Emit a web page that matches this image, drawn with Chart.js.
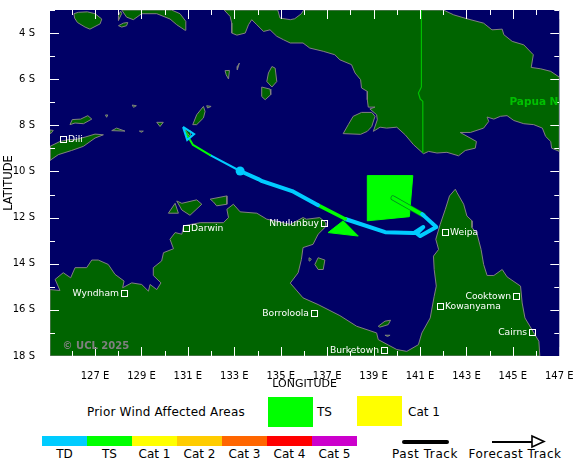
<!DOCTYPE html>
<html><head><meta charset="utf-8">
<script src="https://cdn.jsdelivr.net/npm/chart.js@4"></script>
<style>
html,body{margin:0;padding:0;background:#fff;overflow:hidden}
#wrap{position:relative;width:580px;height:469px;font-family:"DejaVu Sans",sans-serif;color:#000;font-size:12px}
canvas{position:absolute;left:0;top:0}
.t{position:absolute;white-space:nowrap;line-height:14px}
.c{transform:translateX(-50%)}
.b{position:absolute}
</style></head><body>
<div id="wrap"><canvas id="c" width="580" height="392"></canvas><div id="legend"></div></div>
<script>
// Longitude (deg E), latitude (deg S)
const buru=[[126.09,3.16],[126.28,3.10],[126.67,3.08],[127.0,3.16],[127.29,3.39],[127.22,3.60],[126.78,3.83],[126.57,3.74],[126.24,3.54],[126.12,3.35]];
const seram=[[128.15,3.0],[128.36,3.31],[128.65,3.42],[129.01,3.16],[129.66,3.16],[130.23,3.39],[130.52,3.64],[130.88,3.88],[130.91,3.49],[130.66,3.16],[130.30,3.0]];
const ambon=[[128.01,3.68],[128.22,3.57],[128.41,3.54],[128.36,3.68],[128.15,3.74]];
const manipa=[[128.01,3.45],[128.15,3.15],[128.10,3.05],[128.01,3.25]];
const newGuinea=[[132.56,3.0],[132.82,3.28],[132.89,3.57],[132.89,4.0],[133.11,4.09],[133.47,4.0],[133.61,3.64],[133.75,3.42],[133.97,3.64],[134.26,3.93],[134.54,3.86],[134.83,4.14],[135.12,4.29],[135.41,4.43],[135.96,4.43],[136.25,4.65],[136.83,4.79],[137.33,4.94],[137.55,5.16],[138.05,5.37],[138.20,5.73],[138.44,6.02],[138.48,6.38],[138.73,6.53],[138.73,6.89],[138.77,7.21],[139.06,7.21],[138.84,7.29],[139.13,7.54],[139.16,7.76],[138.99,8.26],[139.28,8.08],[139.56,8.12],[140.0,8.08],[140.36,8.41],[140.72,8.84],[141.15,9.23],[141.37,9.13],[141.73,9.20],[142.16,9.17],[142.66,9.32],[142.95,9.09],[143.38,8.99],[143.43,8.70],[142.73,8.31],[143.17,8.31],[143.74,8.12],[143.96,7.83],[143.89,7.64],[144.18,7.73],[144.46,7.61],[144.75,7.58],[145.04,7.79],[145.47,7.93],[145.90,7.97],[146.27,8.12],[146.41,8.48],[146.63,8.70],[146.67,8.99],[147.0,9.13],[147.0,5.91],[146.63,5.66],[146.20,5.55],[145.79,5.49],[145.88,4.94],[145.47,4.51],[144.97,4.36],[144.61,4.07],[144.54,3.83],[144.10,3.86],[143.74,3.57],[143.02,3.38],[142.45,3.21],[142.01,3.0],[135.99,3.0],[135.89,3.16],[135.60,3.38],[135.41,3.42],[134.97,3.35],[134.87,3.0]];
const dolak=[[137.69,8.36],[137.91,7.97],[138.12,7.61],[138.48,7.44],[138.92,7.44],[139.06,7.61],[138.92,8.05],[138.73,8.26],[138.44,8.39]];
const aruNorth=[[134.62,5.45],[134.76,5.52],[134.83,6.10],[134.62,6.34],[134.40,6.10],[134.47,5.73]];
const aruSouth=[[134.18,6.34],[134.54,6.43],[134.57,6.67],[134.33,6.89],[134.18,6.75]];
const keiEast=[[133.13,5.59],[133.22,5.30],[133.13,5.45]];
const keiWest=[[132.60,5.63],[132.79,5.62],[132.75,5.99],[132.65,5.81]];
const tanimbar=[[131.21,7.97],[131.38,7.54],[131.67,7.18],[131.74,7.40],[131.67,7.68],[131.38,7.97]];
const tanimbarNorth=[[131.81,7.15],[132.0,7.18],[131.85,7.25]];
const babar=[[129.66,7.87],[129.94,7.87],[129.80,8.05]];
const damar=[[128.6,7.12],[128.78,7.15],[128.66,7.22]];
const romang=[[127.45,7.55],[127.55,7.55],[127.5,7.65]];
const wetar=[[125.92,7.97],[126.02,7.75],[126.38,7.73],[126.69,7.58],[126.86,7.73],[126.50,7.93],[126.14,7.90]];
const kisar=[[127.72,8.23],[127.93,8.12],[128.29,8.25]];
const leti=[[128.91,8.25],[129.08,8.25],[129.0,8.3]];
const selaru=[[130.85,8.16],[131.14,8.26],[131.09,8.48]];
const alor=[[125.06,8.2],[125.2,8.22],[125.1,8.35]];
const timor=[[125.06,9.52],[125.42,9.27],[125.99,9.09],[126.50,8.91],[127.0,8.55],[127.36,8.41],[127.0,8.38],[126.57,8.51],[126.14,8.62],[125.85,8.62],[125.49,8.70],[125.06,8.91]];
const australia=[[125.06,15.12],[125.49,15.16],[125.28,14.68],[125.63,14.39],[125.95,14.61],[126.14,14.17],[126.64,14.17],[126.86,13.84],[127.14,13.84],[127.57,14.03],[127.86,14.46],[128.25,14.75],[128.19,15.04],[128.58,14.83],[129.01,14.90],[129.30,15.19],[129.37,14.90],[129.66,15.12],[129.84,14.83],[129.51,14.51],[129.51,14.17],[129.87,13.88],[129.95,13.52],[130.38,13.35],[130.23,12.94],[130.45,12.65],[130.74,12.72],[130.81,12.36],[131.53,12.22],[132.53,12.22],[132.75,12.0],[132.68,11.64],[132.96,11.42],[133.25,11.75],[133.97,11.81],[134.40,12.07],[135.41,12.29],[135.96,12.0],[136.11,12.07],[136.68,12.0],[136.94,12.22],[136.94,12.39],[136.61,12.72],[136.39,13.16],[135.96,13.30],[135.89,13.81],[135.75,14.39],[135.41,14.84],[135.96,15.48],[136.61,15.77],[137.55,16.25],[138.27,16.71],[139.13,17.0],[139.20,17.29],[140.0,17.72],[140.43,17.80],[140.93,17.51],[141.08,17.0],[141.44,16.35],[141.61,15.41],[141.70,14.97],[141.61,14.25],[141.58,13.67],[141.80,13.38],[141.68,12.94],[141.87,12.29],[142.09,11.64],[142.27,11.06],[142.52,10.77],[142.59,10.91],[142.88,11.42],[143.02,11.93],[143.24,12.14],[143.24,12.43],[143.46,12.72],[143.63,13.38],[143.74,14.03],[143.89,14.51],[144.18,14.51],[144.54,14.25],[144.75,14.57],[145.33,14.97],[145.40,15.70],[145.52,16.35],[146.12,17.36],[146.16,18.0],[125.06,18.0]];
const bathurst=[[130.16,11.81],[130.45,11.38],[130.59,11.81]];
const melville=[[130.52,11.28],[130.74,11.38],[131.38,11.23],[131.60,11.42],[131.09,11.90],[130.74,11.67]];
const cobourg=[[131.96,11.20],[132.68,11.06],[132.68,11.42],[132.24,11.49],[132.10,11.32]];
const groote=[[136.47,14.03],[136.61,13.74],[136.90,13.84],[136.83,14.25],[136.61,14.25]];
const bickerton=[[136.22,13.74],[136.32,13.81],[136.25,13.88]];
const mornington=[[139.20,16.71],[139.49,16.49],[139.73,16.45],[139.63,16.64],[139.27,16.75]];
const bentinck=[[139.49,17.10],[139.71,17.10],[139.6,17.15]];
const landAreas=[buru,seram,ambon,manipa,newGuinea,dolak,aruNorth,aruSouth,keiEast,keiWest,tanimbar,tanimbarNorth,babar,damar,romang,wetar,kisar,leti,selaru,alor,timor,australia,bathurst,melville,cobourg,groote,bickerton,mornington,bentinck];
const border=[[141.06,3.0],[141.06,6.34],[140.93,6.60],[141.01,6.86],[141.12,6.96],[141.12,9.17]];
const windTSBox=[[138.73,10.18],[140.69,10.18],[140.54,11.96],[138.73,12.14]];
const windTSTriangle=[[137.04,12.65],[137.69,12.14],[138.34,12.80]];
const pastTS1=[[139.84,11.15],[141.14,11.89]];
const pastTD1=[[141.09,11.85],[141.70,12.41],[141.01,12.80],[140.79,12.63],[141.14,12.41],[140.92,12.63],[140.71,12.67],[139.50,12.63],[137.78,12.06]];
const pastTS2=[[137.78,12.06],[136.61,11.46]];
const pastTD2=[[136.61,11.46],[135.49,10.85],[134.20,10.42],[134.03,10.33],[133.25,9.98]];
const forecastTD=[[133.25,9.98],[131.96,9.29]];
const forecastTS=[[131.96,9.29],[131.22,8.85],[130.88,8.28]];
const arrowHead=[[130.79,8.07],[131.27,8.38],[130.97,8.64],[130.79,8.07]];
const currentPos=[[133.25,9.98]];
const cityNames=["Dili","Darwin","Wyndham","Borroloola","Nhulunbuy","Burketown","Weipa","Kowanyama","Cooktown","Cairns"];
const cityLon=[125.63,130.91,128.26,136.45,136.87,139.43,142.06,141.84,145.12,145.82];
const cityLat=[8.61,12.47,15.26,16.15,12.22,17.76,12.64,15.85,15.40,16.97];
const citySide=["r","r","l","l","l","l","r","r","l","l"];
const catLabels=["TD","TS","Cat 1","Cat 2","Cat 3","Cat 4","Cat 5"];
const catColors=["#00ccff","#00ff00","#ffff00","#ffcc00","#ff6600","#ff0000","#cc00cc"];

const pts=a=>a.map(p=>({x:p[0],y:p[1]}));
const base={showLine:true,pointRadius:0,pointHoverRadius:0,tension:0};
const line=(a,color,w,extra)=>Object.assign({},base,{data:pts(a),borderColor:color,borderWidth:w,fill:false,borderCapStyle:'round',borderJoinStyle:'round'},extra||{});
const area=(a,fillC,strokeC,w)=>Object.assign({},base,{data:pts(a.concat([a[0]])),backgroundColor:fillC,borderColor:strokeC,borderWidth:w,fill:'shape'});

const painted=[];
landAreas.forEach(a=>painted.push(area(a,'#006400','#808080',1)));
painted.push(line(border,'#00c000',1.2));
painted.push(area(windTSBox,'#00ff00','#00ff00',1));
painted.push(area(windTSTriangle,'#00ff00','#00ff00',1));
painted.push(line(pastTS1,'#008a20',5));
painted.push(line(pastTS1,'#00ff00',3.6));
painted.push(line(pastTD1,'#00ccff',4));
painted.push(line(pastTS2,'#00ff00',3.5));
painted.push(line(pastTD2,'#00ccff',4));
painted.push(line(forecastTD,'#00ccff',2));
painted.push(line(forecastTS,'#00ff00',2));
painted.push(line(arrowHead,'#00ccff',2,{borderCapStyle:'butt',borderJoinStyle:'miter'}));
painted.push(Object.assign({},base,{data:pts(currentPos),showLine:false,pointRadius:4.5,backgroundColor:'#00ccff',borderWidth:0}));

const overlay={id:'overlay',
 beforeDatasetsDraw(ch){const a=ch.chartArea,c=ch.ctx;c.save();c.fillStyle='#000066';c.fillRect(a.left,a.top,a.right-a.left,a.bottom-a.top);c.restore();},
 afterDatasetsDraw(ch){
  const a=ch.chartArea,c=ch.ctx,X=ch.scales.x,Y=ch.scales.y;
  c.save();
  c.beginPath();c.rect(a.left,a.top,a.right-a.left,a.bottom-a.top);c.clip();
  c.strokeStyle='#ffffff';c.lineWidth=1;
  X.ticks.forEach(t=>{const m=Number.isInteger(t.value)&&t.value%2===1?9:5,p=Math.round(X.getPixelForValue(t.value))+.5;
    c.beginPath();c.moveTo(p,a.top);c.lineTo(p,a.top+m);c.moveTo(p,a.bottom);c.lineTo(p,a.bottom-m);c.stroke();});
  Y.ticks.forEach(t=>{const m=t.value%2===0?9:5,p=Math.round(Y.getPixelForValue(t.value))+.5;
    c.beginPath();c.moveTo(a.left,p);c.lineTo(a.left+m,p);c.moveTo(a.right,p);c.lineTo(a.right-m,p);c.stroke();});
  // country and copyright labels
  c.textBaseline='middle';c.textAlign='left';
  c.font='bold 10.5px "DejaVu Sans"';c.fillStyle='#00c000';
  c.fillText('Papua New Guinea',X.getPixelForValue(144.85),Y.getPixelForValue(7.0));
  c.font='bold 10px "DejaVu Sans"';c.fillStyle='#808080';
  c.fillText('© UCL 2025',X.getPixelForValue(125.6),Y.getPixelForValue(17.6));
  // cities
  c.font='9.2px "DejaVu Sans"';c.fillStyle='#ffffff';c.strokeStyle='#ffffff';c.lineWidth=1;
  cityNames.forEach((n,i)=>{
    const px=X.getPixelForValue(cityLon[i]),py=Y.getPixelForValue(cityLat[i]);
    const rx=Math.round(px),ry=Math.round(py);
    c.strokeRect(rx-3+.5,ry-3+.5,6,6);
    if(citySide[i]==='r'){c.textAlign='left';c.fillText(n,rx+5,ry+.5);}
    else{c.textAlign='right';c.fillText(n,rx-5,ry+.5);}
  });
  c.restore();
 }};

new Chart(document.getElementById('c'),{
 type:'scatter',
 data:{datasets:painted.slice().reverse()},
 plugins:[overlay],
 options:{responsive:false,animation:false,
  layout:{padding:{left:0,top:10,right:20.7,bottom:0}},
  plugins:{legend:{display:false},tooltip:{enabled:false},title:{display:false}},
  events:[],
  scales:{
   x:{type:'linear',min:125.06,max:147,
    grid:{display:false},border:{display:false},
    afterFit(s){s.height=36;s.paddingLeft=0;s.paddingRight=0;},
    ticks:{stepSize:1,includeBounds:false,autoSkip:false,maxRotation:0,padding:6,color:'#000',font:{family:'"DejaVu Sans"',size:10},
      callback:v=>(Number.isInteger(v)&&v%2===1)?v+' E':''},
    title:{display:true,text:'LONGITUDE',color:'#000',font:{family:'"DejaVu Sans"',size:11},padding:{top:0,bottom:1}}},
   y:{type:'linear',min:3,max:18,reverse:true,
    grid:{display:false},border:{display:false},
    afterFit(s){s.width=50;s.paddingTop=0;s.paddingBottom=0;},
    ticks:{stepSize:1,autoSkip:false,padding:7,color:'#000',font:{family:'"DejaVu Sans"',size:10},
      callback:v=>(v%2===0)?v+' S':''},
    title:{display:true,text:'LATITUDE',color:'#000',font:{family:'"DejaVu Sans"',size:11.5},padding:{top:2,bottom:0}}}
  }}
});

// Legend
const L=document.getElementById('legend');
const addT=(txt,x,y,center,sp)=>{const d=document.createElement('div');d.className='t'+(center?' c':'');d.textContent=txt;d.style.left=x+'px';d.style.top=(y-7)+'px';if(sp)d.style.letterSpacing=sp+'px';L.appendChild(d);};
const addB=(x,y,w,h,col,extra)=>{const d=document.createElement('div');d.className='b';d.style.cssText=`left:${x}px;top:${y}px;width:${w}px;height:${h}px;background:${col};${extra||''}`;L.appendChild(d);};
addT('Prior Wind Affected Areas',87,412,false,0.2);
addB(268,397,45,30,'#00ff00');addT('TS',317,412);
addB(357,396,45,30,'#ffff00');addT('Cat 1',408,412);
catLabels.forEach((n,i)=>{addB(42+45*i,436,45,10,catColors[i]);addT(n,64.5+45*i,454,true);});
addB(402,439.5,47,4,'#000','border-radius:2px');addT('Past Track',425,454,true,0.6);
addB(492,441,40,1.5,'#000');addT('Forecast Track',515,454,true,0.5);
L.insertAdjacentHTML('beforeend','<svg style="position:absolute;left:530px;top:434px" width="16" height="16"><polygon points="2,2 14,7.5 2,13" fill="none" stroke="#000" stroke-width="1.6"/></svg>');
</script></body></html>
